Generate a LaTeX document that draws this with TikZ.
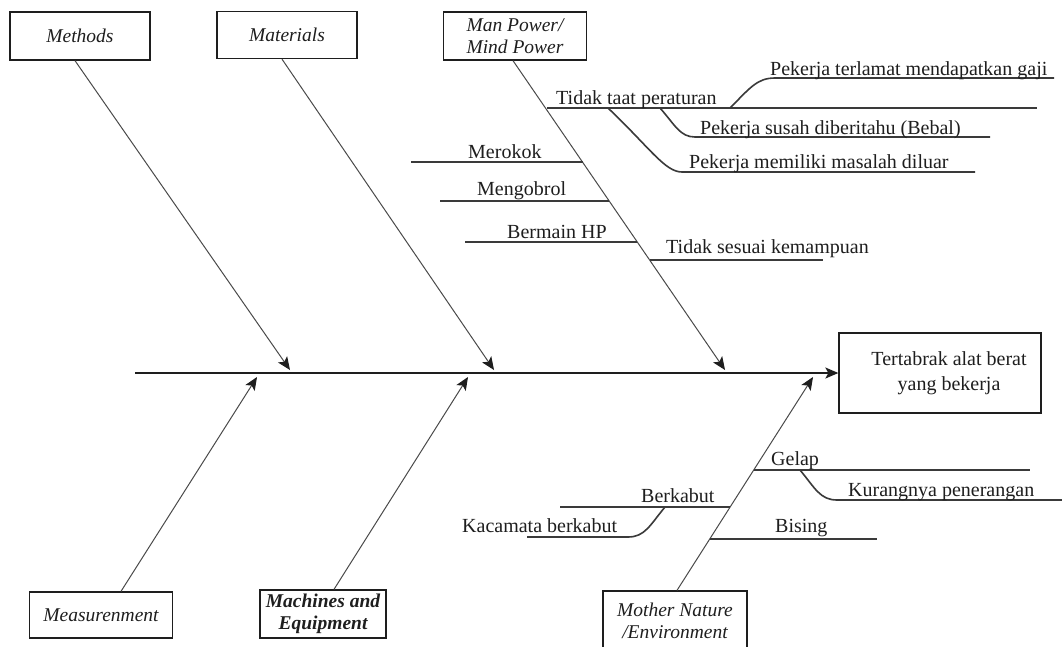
\documentclass[tikz,border=0pt]{standalone}
\usepackage{fontspec}
\setmainfont{Liberation Serif}
\usetikzlibrary{arrows.meta}
\definecolor{ink}{HTML}{1E1E1E}
\definecolor{bonegray}{HTML}{4A4A4A}
\definecolor{subgray}{HTML}{3A3A3A}
\begin{document}
\begin{tikzpicture}[x=1pt,y=-1pt,
  catbox/.style={draw=ink, line width=1.3pt, text=ink, align=center, inner sep=0pt,
    font=\fontsize{19.5}{22.5}\selectfont\itshape},
  effectbox/.style={draw=ink, line width=1.3pt, text=ink, align=center, inner sep=0pt,
    font=\fontsize{20}{25}\selectfont},
  spine/.style={draw=ink, line width=1.4pt, -{Stealth[length=13pt,width=11pt,inset=3pt,color=ink]}},
  bone/.style={draw=bonegray, line width=1pt, -{Stealth[length=13pt,width=11pt,inset=3pt,color=ink]}},
  cause/.style={draw=subgray, line width=1.6pt},
  lbl/.style={text=ink, inner sep=0pt, anchor=base west, font=\fontsize{20}{24}\selectfont}
]
\useasboundingbox (0,0) rectangle (1062,646);
\fill[white] (0,0) rectangle (1062,646);
\clip (0,0) rectangle (1062,646);

% category boxes
\node[catbox, minimum width=140pt, minimum height=48pt] (methods)   at (80,36)  {Methods};
\node[catbox, minimum width=140pt, minimum height=47pt] (materials) at (287,35) {Materials};
\node[catbox, minimum width=143pt, minimum height=48pt] (manpower)  at (515,36) {Man Power/\\Mind Power};
\node[catbox, minimum width=143pt, minimum height=46pt] (measure)   at (101,615) {Measurenment};
\node[catbox, minimum width=126pt, minimum height=48pt, font=\fontsize{19.5}{22.5}\selectfont\itshape\bfseries] (machines) at (323,614) {Machines and\\Equipment};
\node[catbox, minimum width=144pt, minimum height=60pt] (mother)    at (675,621) {Mother Nature\\/Environment};

% effect
\node[effectbox, minimum width=202pt, minimum height=80pt] (effect) at (940,373)
  {\hspace*{18pt}Tertabrak alat berat\\\hspace*{18pt}yang bekerja};

% spine
\coordinate (tail) at (135,373);
\draw[spine] (tail) -- (effect.west);

% bone tips on the spine
\coordinate (tipMe) at (290,370);
\coordinate (tipMa) at (494,370);
\coordinate (tipMp) at (725,370);
\coordinate (tipMs) at (257,377);
\coordinate (tipMc) at (468,377);
\coordinate (tipMn) at (813,377);

\draw[bone] ([xshift=-5pt]methods.south)   -- (tipMe);
\draw[bone] ([xshift=-5pt]materials.south) -- (tipMa);
\draw[bone] ([xshift=-2pt]manpower.south)  -- (tipMp);
\draw[bone] ([xshift=20pt]measure.north)   -- (tipMs);
\draw[bone] ([xshift=11pt]machines.north)  -- (tipMc);
\draw[bone] ([xshift=2pt]mother.north)     -- (tipMn);

% man power / mind power causes
\coordinate (tt0) at (547,108);  \coordinate (tt1) at (1037,108);
\draw[cause] (tt0) -- (tt1);
\node[lbl] (ttl) at (556,104) {Tidak taat peraturan};

\coordinate (gj0) at (730,108);  \coordinate (gj1) at (775,78);  \coordinate (gj2) at (1054,78);
\draw[cause] (gj0) .. controls (750,88) and (757,78) .. (gj1) -- (gj2);
\node[lbl] (gjl) at (770,75) {Pekerja terlamat mendapatkan gaji};

\coordinate (bb0) at (660,108);  \coordinate (bb1) at (695,137);  \coordinate (bb2) at (990,137);
\draw[cause] (bb0) .. controls (675,125) and (680,137) .. (bb1) -- (bb2);
\node[lbl] (bbl) at (700,134) {Pekerja susah diberitahu (Bebal)};

\coordinate (md0) at (608,108);  \coordinate (md1) at (682,172);  \coordinate (md2) at (975,172);
\draw[cause] (md0) .. controls (650,148) and (665,172) .. (md1) -- (md2);
\node[lbl] (mdl) at (689,168) {Pekerja memiliki masalah diluar};

\coordinate (mr0) at (411,162);  \coordinate (mr1) at (583,162);
\draw[cause] (mr0) -- (mr1);
\node[lbl] (mrl) at (468,158) {Merokok};

\coordinate (mg0) at (440,201);  \coordinate (mg1) at (609,201);
\draw[cause] (mg0) -- (mg1);
\node[lbl] (mgl) at (477,195) {Mengobrol};

\coordinate (hp0) at (465,242);  \coordinate (hp1) at (637,242);
\draw[cause] (hp0) -- (hp1);
\node[lbl] (hpl) at (507,238) {Bermain HP};

\coordinate (sk0) at (650,260);  \coordinate (sk1) at (823,260);
\draw[cause] (sk0) -- (sk1);
\node[lbl] (skl) at (666,253) {Tidak sesuai kemampuan};

% mother nature / environment causes
\coordinate (gl0) at (754,470);  \coordinate (gl1) at (1030,470);
\draw[cause] (gl0) -- (gl1);
\node[lbl] (gll) at (771,465) {Gelap};

\coordinate (kp0) at (800,470);  \coordinate (kp1) at (837,500);  \coordinate (kp2) at (1062,500);
\draw[cause] (kp0) .. controls (815,488) and (820,500) .. (kp1) -- (kp2);
\node[lbl] (kpl) at (848,496) {Kurangnya penerangan};

\coordinate (bk0) at (560,507);  \coordinate (bk1) at (730,507);
\draw[cause] (bk0) -- (bk1);
\node[lbl] (bkl) at (641,502) {Berkabut};

\coordinate (kb0) at (665,507);  \coordinate (kb1) at (628,537);  \coordinate (kb2) at (527,537);
\draw[cause] (kb0) .. controls (650,525) and (645,537) .. (kb1) -- (kb2);
\node[lbl] (kbl) at (462,532) {Kacamata berkabut};

\coordinate (bs0) at (710,539);  \coordinate (bs1) at (877,539);
\draw[cause] (bs0) -- (bs1);
\node[lbl] (bsl) at (775,532) {Bising};
\end{tikzpicture}
\end{document}
